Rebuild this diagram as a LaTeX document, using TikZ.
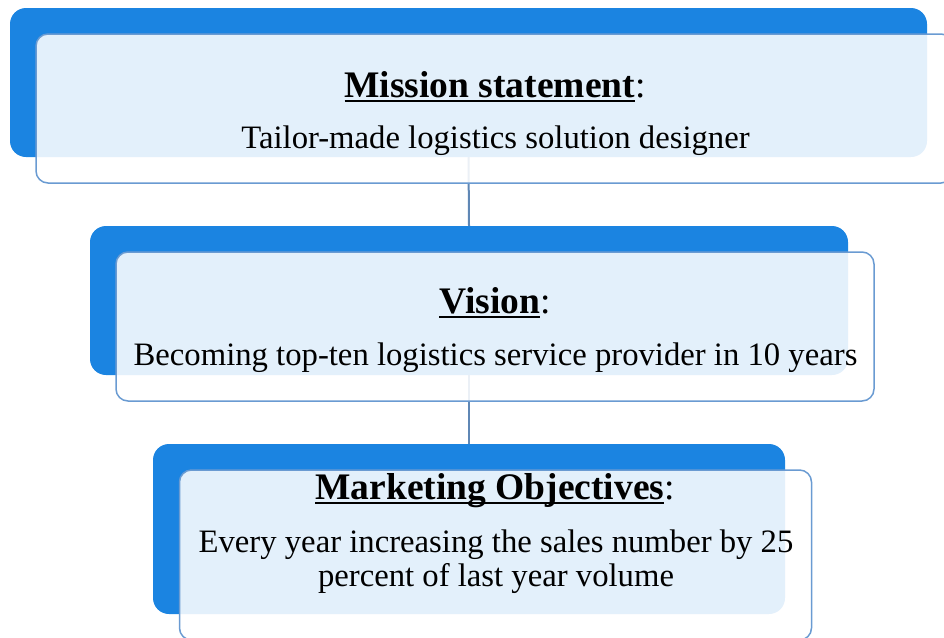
\documentclass[tikz,border=0pt]{standalone}
\usepackage{fontspec}
\setmainfont{Liberation Serif}
\definecolor{backblue}{RGB}{27,132,225}
\definecolor{frontedge}{RGB}{106,155,210}
\definecolor{connline}{RGB}{95,135,181}
\newcommand{\myul}[1]{\setbox0\hbox{#1}\rlap{\rule[-5pt]{\wd0}{2pt}}\box0}
\tikzset{
  backbox/.style={draw=none, fill=backblue, rounded corners=16pt, inner sep=0pt},
  frontbox/.style={draw=frontedge, line width=1.5pt, fill=white, fill opacity=0.88, rounded corners=12pt, inner sep=0pt},
  conn/.style={draw=connline, line width=2pt},
  label/.style={anchor=base, inner sep=0pt, font=\fontsize{32.7}{36}\selectfont},
  title/.style={anchor=base, inner sep=0pt, font=\fontsize{37.5}{40}\selectfont}
}
\begin{document}
\begin{tikzpicture}[x=1pt, y=-1pt]
\useasboundingbox (0,0) rectangle (944,637);
\clip (0,0) rectangle (944,637);
% back boxes
\node[backbox, minimum width=917pt, minimum height=149pt] (b1) at (468.5,82.5) {};
\node[backbox, minimum width=758pt, minimum height=149pt] (b2) at (469,300.5) {};
\node[backbox, minimum width=632pt, minimum height=170pt] (b3) at (469,529) {};
% connectors
\draw[conn] (b1.south) -- (b2.north);
\draw[conn] (b2.south) -- (b3.north);
% front boxes
\node[frontbox, minimum width=917pt, minimum height=149pt] (f1) at (494.5,108.5) {};
\node[frontbox, minimum width=758pt, minimum height=149pt] (f2) at (495,326.5) {};
\node[frontbox, minimum width=632pt, minimum height=170pt] (f3) at (495.5,555) {};
% texts
\node[title] (t1) at (495,97) {\myul{\textbf{Mission statement}}:};
\node[label] (s1) at (495.5,148) {Tailor-made logistics solution designer};
\node[title] (t2) at (495,313) {\myul{\textbf{Vision}}:};
\node[label] (s2) at (495.5,365) {Becoming top-ten logistics service provider in 10 years};
\node[title] (t3) at (495,499) {\myul{\textbf{Marketing Objectives}}:};
\node[label] (s3a) at (496,552) {Every year increasing the sales number by 25};
\node[label] (s3b) at (496,586) {percent of last year volume};
\end{tikzpicture}
\end{document}
